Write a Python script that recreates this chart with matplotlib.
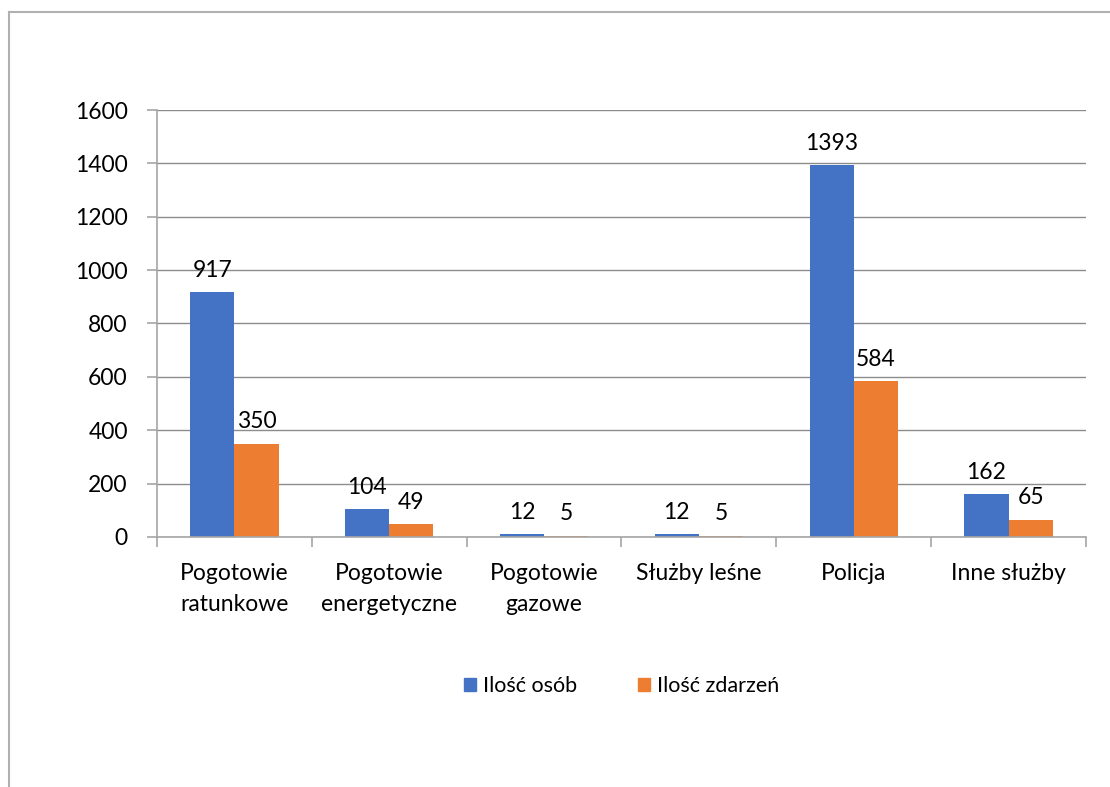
import numpy as np
import matplotlib.pyplot as plt
from matplotlib.lines import Line2D
from matplotlib.patches import Patch

plt.rcParams['font.family'] = ['Lato', 'DejaVu Sans']

# Data
categories = ['Pogotowie\nratunkowe', 'Pogotowie\nenergetyczne', 'Pogotowie\ngazowe',
              'Służby leśne', 'Policja', 'Inne służby']
osoby = [917, 104, 12, 12, 1393, 162]
zdarzenia = [350, 49, 5, 5, 584, 65]
series_names = ['Ilość osób', 'Ilość zdarzeń']

blue = '#4472C4'
orange = '#ED7D31'
grid_col = '#8c8c8c'

fig = plt.figure(figsize=(11.1, 7.87), dpi=100)
ax = fig.add_axes([0.1414, 0.3177, 0.837, 0.5425])

x = np.arange(len(categories))
w = 0.285
b1 = ax.bar(x - w / 2, osoby, w, color=blue, label=series_names[0])
b2 = ax.bar(x + w / 2, zdarzenia, w, color=orange, label=series_names[1])

for bars, vals in ((b1, osoby), (b2, zdarzenia)):
    for rect, v in zip(bars, vals):
        ax.text(rect.get_x() + rect.get_width() / 2, v + 42, str(v),
                ha='center', va='bottom', fontsize=16.5)

ax.set_xlim(-0.5, len(categories) - 0.5)
ax.set_ylim(0, 1600)
ax.set_yticks(range(0, 1601, 200))
ax.tick_params(axis='y', labelsize=16.5, length=7, color='#a6a6a6', width=1.2, pad=14)
ax.yaxis.grid(True, color=grid_col, linewidth=1)
ax.set_axisbelow(True)

# category labels, ticks at boundaries
ax.set_xticks(x)
ax.set_xticklabels(categories, fontsize=16.5, linespacing=1.55)
ax.tick_params(axis='x', length=0, pad=19)
ax.set_xticks(np.arange(-0.5, len(categories)), minor=True)
ax.tick_params(axis='x', which='minor', length=7, color='#a6a6a6', width=1.2)

for s in ('top', 'right'):
    ax.spines[s].set_visible(False)
for s in ('left', 'bottom'):
    ax.spines[s].set_color('#a6a6a6')
    ax.spines[s].set_linewidth(1.2)

handles = [Patch(color=blue), Patch(color=orange)]
fig.legend(handles, series_names, loc='center', bbox_to_anchor=(0.56, 0.128),
           ncol=2, frameon=False, fontsize=15.5, handlelength=0.55, handleheight=0.55,
           handletextpad=0.35, columnspacing=2.8)

# outer chart border (left and top only are visible)
fig.add_artist(Line2D([0.0085, 0.0085], [0, 0.985], color='#b0b0b0', lw=1.5,
                      transform=fig.transFigure))
fig.add_artist(Line2D([0.0085, 1.0], [0.985, 0.985], color='#b0b0b0', lw=1.5,
                      transform=fig.transFigure))

fig.savefig('out.png', dpi=100)
